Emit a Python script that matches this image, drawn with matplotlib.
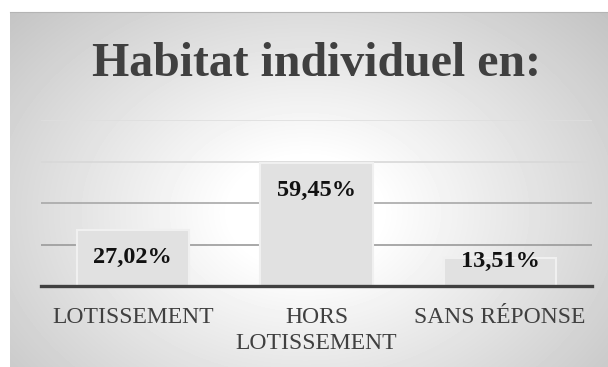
import numpy as np
import matplotlib.pyplot as plt

categories = ['LOTISSEMENT', 'HORS\nLOTISSEMENT', 'SANS RÉPONSE']
values = [27.02, 59.45, 13.51]
value_labels = ['27,02%', '59,45%', '13,51%']
grid_levels = [20, 40, 60, 80]

plt.rcParams['font.family'] = ['Liberation Serif', 'DejaVu Serif']

fig = plt.figure(figsize=(6.08, 3.67), dpi=100)
fig.patch.set_facecolor('white')

# grey panel with a soft radial highlight
bg = fig.add_axes([10 / 608, 0, 598 / 608, 355 / 367], zorder=-2)
h, w = 355, 598
yy, xx = np.mgrid[0:h, 0:w]
d = np.sqrt(((xx - 295) / 300.0) ** 2 + ((yy - 200) / 220.0) ** 2)
shade = 1 - 0.17 * np.clip((d - 0.25) / 0.8, 0, None)
shade = np.clip(shade, 0.72, 1)
bg.imshow(shade, cmap='gray', vmin=0, vmax=1, aspect='auto', interpolation='bilinear')
bg.set_axis_off()
fig.add_artist(plt.Line2D([10 / 608, 1], [1 - 11.5 / 367] * 2, color='#b4b4b4', lw=0.8))

ax = fig.add_axes([41 / 608, 1 - 286 / 367, 551 / 608, 166 / 367])
ax.set_facecolor('none')
x = np.arange(len(categories))

grid_colors = ['#9a9a9a', '#a8a8a8', '#d8d8d8', '#dedede']
for lvl, c in zip(grid_levels, grid_colors):
    ax.axhline(lvl, color=c, lw=1.2, zorder=0)

ax.bar(x, values, width=0.61, color='#e1e1e1', edgecolor='#f0f0f0', linewidth=1.5, zorder=2)

for i, (v, lab) in enumerate(zip(values, value_labels)):
    ax.text(i, max(v - 13.3, 11.6), lab, ha='center', va='center', fontsize=17.5,
            fontweight='bold', color='#111111', zorder=3)

ax.set_xlim(-0.5, 2.5)
ax.set_ylim(0, 80)
ax.set_yticks([])
ax.set_xticks(x)
ax.set_xticklabels(categories, fontsize=17, color='#404040', linespacing=1.35)
ax.tick_params(axis='x', length=0, pad=15)
for side in ['left', 'right', 'top']:
    ax.spines[side].set_visible(False)
ax.spines['bottom'].set_color('#404040')
ax.spines['bottom'].set_linewidth(2.4)
ax.spines['bottom'].set_zorder(4)

fig.text(316 / 608, 1 - 76 / 367, 'Habitat individuel en:', ha='center', va='baseline',
         fontsize=34.5, fontweight='bold', color='#404040')

fig.savefig('out.png', dpi=100)
